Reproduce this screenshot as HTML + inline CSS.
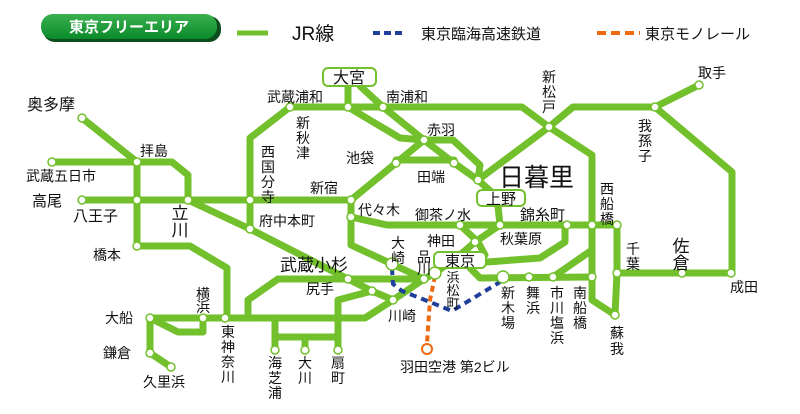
<!DOCTYPE html>
<html><head><meta charset="utf-8"><style>
html,body{margin:0;padding:0;background:#fff;}
svg{display:block;}
text{font-family:"Liberation Sans","Noto Sans CJK JP",sans-serif;fill:#111;}
.s{font-size:14px;}
.v{font-size:14px;text-anchor:middle;}
</style></head><body>
<svg width="800" height="414" viewBox="0 0 800 414" xmlns="http://www.w3.org/2000/svg">
<defs><linearGradient id="g" x1="0" y1="0" x2="0" y2="1"><stop offset="0" stop-color="#3cb050"/><stop offset="1" stop-color="#0a8a2a"/></linearGradient></defs>
<rect x="43" y="16" width="178" height="26" rx="12" fill="#0b4d1c"/>
<rect x="41" y="14" width="176" height="25" rx="12" fill="url(#g)"/>
<text x="129" y="32" style="font-size:15px;fill:#fff;text-anchor:middle;font-weight:bold">東京フリーエリア</text>
<line x1="237" y1="33" x2="268" y2="33" stroke="#72c02c" stroke-width="5"/>
<text x="292" y="40" style="font-size:19px">JR線</text>
<line x1="373" y1="33" x2="405" y2="33" stroke="#1f3f9a" stroke-width="4" stroke-dasharray="7,4"/>
<text x="421" y="39" style="font-size:15px">東京臨海高速鉄道</text>
<line x1="597" y1="33" x2="640" y2="33" stroke="#ee6a10" stroke-width="4" stroke-dasharray="9,5"/>
<text x="645" y="39" style="font-size:15px">東京モノレール</text>

<g fill="none" stroke="#72c02c" stroke-width="7" stroke-linejoin="round" stroke-linecap="round">
<path d="M82 118 L137 162"/>
<path d="M52 162 L172 162 L188 175 L188 200"/>
<path d="M82 200 L351 200"/>
<path d="M137 162 L137 246 L190 246 L227 268 L227 318"/>
<path d="M188 200 L250 229 L348 279 L372 291 L393 300"/>
<path d="M250 200 L250 229"/>
<path d="M150 318 L365 318 L393 300 L424 279 L435 273 L450 262"/>
<path d="M150 318 L150 353 L171 367"/>
<path d="M150 318 L178 332 L203 332 L203 318"/>
<path d="M278 279 L424 279"/>
<path d="M278 279 L248 300 L248 318"/>
<path d="M372 291 L338 300 L338 350"/>
<path d="M275 318 L275 350"/>
<path d="M275 337 L338 337"/>
<path d="M305 337 L305 350"/>
<path d="M250 229 L250 138 L290 107 L522 107 L549 127 L592 155 L592 300 L615 315"/>
<path d="M348 86 L348 107 L400 138 L424 140 L454 163 L478 180 L497 197"/>
<path d="M360 86 L383 107 L424 140"/>
<path d="M424 140 L396 163 L351 200 L351 245 L392 264 L424 279"/>
<path d="M396 160 L454 160"/>
<path d="M424 140 L453 140 L480 165 L478 180"/>
<path d="M478 180 L549 127 L573 107 L655 107 L699 85"/>
<path d="M655 107 L732 172 L732 273 L617 273"/>
<path d="M497 197 L500 225 L475 242 L460 255"/>
<path d="M351 217 L387 225 L617 225 L617 273 L615 315"/>
<path d="M460 225 L478 242 L485 255"/>
<path d="M565 225 L565 242 L540 258 L487 262"/>
<path d="M470 268 L480 278 L592 277"/>
<path d="M553 277 L592 250"/>
</g>
<path d="M392 268 L393 284 L402 291 L430 302 L452 311 L500 282" fill="none" stroke="#1f3f9a" stroke-width="4" stroke-dasharray="7,5"/>
<path d="M435 276 L430 300 L427 343" fill="none" stroke="#ee6a10" stroke-width="4" stroke-dasharray="6,4"/>
<circle cx="427" cy="349" r="5" fill="#fff" stroke="#ee6a10" stroke-width="2"/>

<g fill="#fff" stroke="#72c02c" stroke-width="1.5">
<circle cx="82" cy="118" r="4"/><circle cx="52" cy="162" r="4"/><circle cx="137" cy="162" r="4"/>
<circle cx="82" cy="200" r="4"/><circle cx="137" cy="200" r="4"/><circle cx="188" cy="200" r="4"/><circle cx="250" cy="200" r="4"/><circle cx="351" cy="200" r="4"/>
<circle cx="137" cy="246" r="4"/><circle cx="250" cy="229" r="4"/><circle cx="290" cy="107" r="4"/><circle cx="348" cy="107" r="4"/><circle cx="383" cy="107" r="4"/>
<circle cx="424" cy="140" r="4"/><circle cx="396" cy="163" r="4"/><circle cx="454" cy="163" r="4"/><circle cx="478" cy="180" r="4"/>
<circle cx="549" cy="127" r="4"/><circle cx="655" cy="107" r="4"/><circle cx="699" cy="85" r="4"/>
<circle cx="351" cy="217" r="4"/><circle cx="460" cy="225" r="4"/><circle cx="500" cy="225" r="4"/><circle cx="567" cy="225" r="4"/><circle cx="592" cy="225" r="4"/><circle cx="617" cy="225" r="4"/>
<circle cx="475" cy="242" r="4"/><circle cx="392" cy="264" r="6"/><circle cx="424" cy="279" r="4"/><circle cx="435" cy="273" r="6"/>
<circle cx="348" cy="279" r="4"/><circle cx="372" cy="291" r="4"/><circle cx="393" cy="300" r="4"/>
<circle cx="503" cy="277" r="6"/><circle cx="529" cy="277" r="4"/><circle cx="553" cy="277" r="4"/><circle cx="592" cy="277" r="4"/>
<circle cx="617" cy="273" r="4"/><circle cx="682" cy="273" r="4"/><circle cx="731" cy="273" r="4"/><circle cx="615" cy="315" r="4"/>
<circle cx="150" cy="318" r="4"/><circle cx="203" cy="318" r="4"/><circle cx="225" cy="318" r="4"/><circle cx="150" cy="353" r="4"/><circle cx="171" cy="367" r="4"/>
<circle cx="275" cy="350" r="4"/><circle cx="305" cy="350" r="4"/><circle cx="338" cy="350" r="4"/>
</g>
<g fill="#fff" stroke="#72c02c" stroke-width="2">
<rect x="323" y="68" width="53" height="18" rx="5"/>
<rect x="477" y="190" width="48" height="16" rx="5"/>
<rect x="434" y="252" width="52" height="16" rx="5"/>
</g>
<text x="349" y="83" style="font-size:16px;text-anchor:middle">大宮</text>
<text x="501" y="204" style="font-size:15px;text-anchor:middle">上野</text>
<text x="460" y="266" style="font-size:15px;text-anchor:middle">東京</text>

<g class="s">
<text x="27" y="110" style="font-size:16px">奥多摩</text>
<text x="140" y="156">拝島</text>
<text x="26" y="181">武蔵五日市</text>
<text x="32" y="206" style="font-size:15px">高尾</text>
<text x="73" y="221" style="font-size:15px">八王子</text>
<text x="93" y="260">橋本</text>
<text x="267" y="102">武蔵浦和</text>
<text x="386" y="102">南浦和</text>
<text x="427" y="135">赤羽</text>
<text x="346" y="163">池袋</text>
<text x="417" y="182">田端</text>
<text x="310" y="193">新宿</text>
<text x="499" y="186" style="font-size:25px">日暮里</text>
<text x="698" y="78">取手</text>
<text x="520" y="220" style="font-size:15px">錦糸町</text>
<text x="358" y="215">代々木</text>
<text x="415" y="220">御茶ノ水</text>
<text x="259" y="226">府中本町</text>
<text x="500" y="244">秋葉原</text>
<text x="427" y="246">神田</text>
<text x="730" y="292">成田</text>
<text x="280" y="271" style="font-size:17px">武蔵小杉</text>
<text x="306" y="294">尻手</text>
<text x="388" y="321">川崎</text>
<text x="400" y="372">羽田空港 第2ビル</text>
<text x="105" y="323">大船</text>
<text x="103" y="358">鎌倉</text>
<text x="143" y="387">久里浜</text>
</g>
<g class="v">
<text x="180" y="219" style="font-size:17px">立<tspan x="180" dy="17">川</tspan></text>
<text x="268" y="157">西<tspan x="268" dy="15">国</tspan><tspan x="268" dy="15">分</tspan><tspan x="268" dy="15">寺</tspan></text>
<text x="303" y="128">新<tspan x="303" dy="15">秋</tspan><tspan x="303" dy="15">津</tspan></text>
<text x="549" y="82">新<tspan x="549" dy="15">松</tspan><tspan x="549" dy="15">戸</tspan></text>
<text x="645" y="131">我<tspan x="645" dy="15">孫</tspan><tspan x="645" dy="15">子</tspan></text>
<text x="607" y="194">西<tspan x="607" dy="15">船</tspan><tspan x="607" dy="15">橋</tspan></text>
<text x="398" y="248">大<tspan x="398" dy="15">崎</tspan></text>
<text x="424" y="262">品<tspan x="424" dy="12">川</tspan></text>
<text x="633" y="254">千<tspan x="633" dy="15">葉</tspan></text>
<text x="681" y="252" style="font-size:17px">佐<tspan x="681" dy="17">倉</tspan></text>
<text x="453" y="282" style="font-size:13px">浜<tspan x="453" dy="13">松</tspan><tspan x="453" dy="13">町</tspan></text>
<text x="508" y="298">新<tspan x="508" dy="15">木</tspan><tspan x="508" dy="15">場</tspan></text>
<text x="533" y="298">舞<tspan x="533" dy="15">浜</tspan></text>
<text x="557" y="298">市<tspan x="557" dy="15">川</tspan><tspan x="557" dy="15">塩</tspan><tspan x="557" dy="15">浜</tspan></text>
<text x="580" y="298">南<tspan x="580" dy="15">船</tspan><tspan x="580" dy="15">橋</tspan></text>
<text x="617" y="338">蘇<tspan x="617" dy="16">我</tspan></text>
<text x="203" y="299">横<tspan x="203" dy="13">浜</tspan></text>
<text x="228" y="337">東<tspan x="228" dy="15">神</tspan><tspan x="228" dy="15">奈</tspan><tspan x="228" dy="15">川</tspan></text>
<text x="275" y="368">海<tspan x="275" dy="15">芝</tspan><tspan x="275" dy="15">浦</tspan></text>
<text x="305" y="368">大<tspan x="305" dy="15">川</tspan></text>
<text x="338" y="368">扇<tspan x="338" dy="15">町</tspan></text>
</g>
</svg>
</body></html>
